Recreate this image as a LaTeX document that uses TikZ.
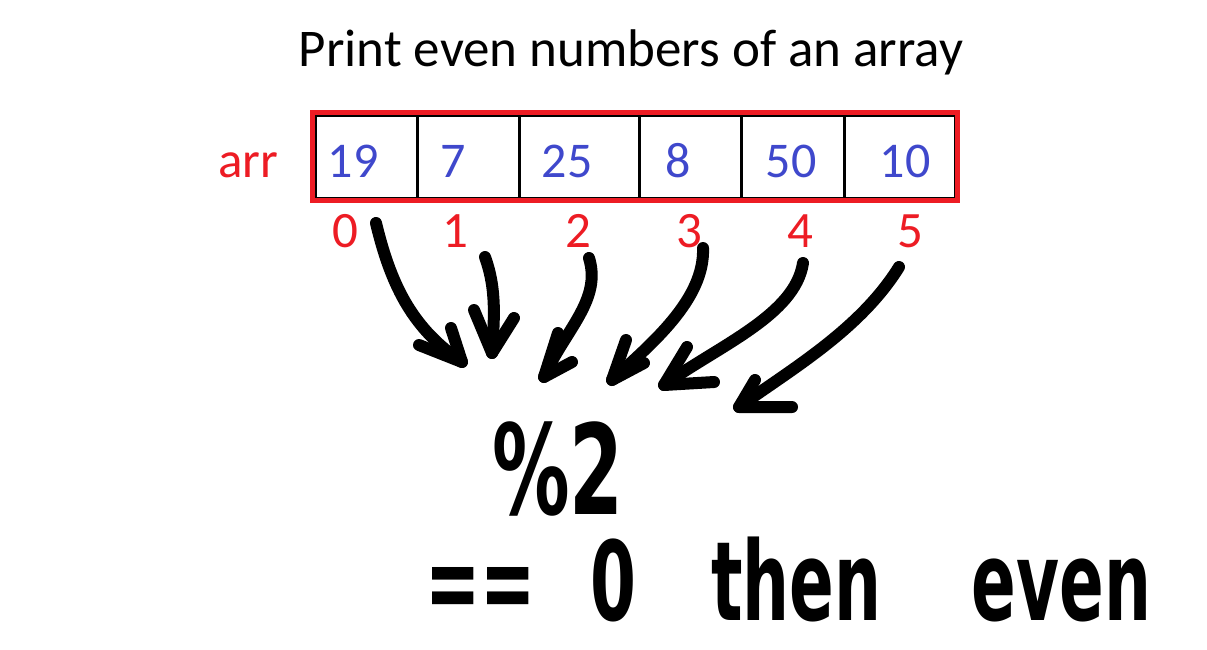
\documentclass[tikz,border=0pt]{standalone}
\usepackage{fontspec}
\setmainfont{Carlito}
\newfontfamily\handfont{DejaVu Sans}
\definecolor{pred}{RGB}{237,28,36}
\definecolor{pblue}{RGB}{63,72,204}
\begin{document}
\begin{tikzpicture}[x=1pt,y=-1pt,
  titletext/.style={font=\fontsize{53}{60}\selectfont, anchor=base, inner sep=0},
  cell/.style={draw=black, line width=3pt, minimum height=83pt, inner sep=0, outer sep=0, anchor=north west},
  frame/.style={draw=pred, line width=5pt},
  val/.style={font=\fontsize{50}{58}\selectfont, text=pblue, anchor=base, inner sep=0},
  idx/.style={font=\fontsize{51}{58}\selectfont, text=pred, anchor=base, inner sep=0},
  hand/.style={draw=black, line width=12pt, line cap=round, line join=round},
  handtext/.style={font=\handfont\bfseries, anchor=base west, inner sep=0, transform shape}
]
\useasboundingbox (0,0) rectangle (1207,649);
\fill[white] (0,0) rectangle (1207,649);

\node[titletext] (title) at (631,66) {Print even numbers of an array};

% cells
\node[cell, minimum width=102pt] (c0) at (315,115) {};
\node[cell, minimum width=102pt] (c1) at (417,115) {};
\node[cell, minimum width=120pt] (c2) at (519,115) {};
\node[cell, minimum width=102pt] (c3) at (639,115) {};
\node[cell, minimum width=103pt] (c4) at (741,115) {};
\node[cell, minimum width=111pt] (c5) at (844,115) {};
\draw[frame] ([shift={(-2.5,-2.5)}]c0.north west) rectangle ([shift={(2.5,2.5)}]c5.south east);

\node[idx] (arr) at (248,177) {arr};

\node[val] (v0) at (353,177) {19};
\node[val] (v1) at (453,177) {7};
\node[val] (v2) at (567,177) {25};
\node[val] (v3) at (678,177) {8};
\node[val] (v4) at (791,177) {50};
\node[val] (v5) at (905,177) {10};

\node[idx] (i0) at (345,247) {0};
\node[idx] (i1) at (455,247) {1};
\node[idx] (i2) at (578,247) {2};
\node[idx] (i3) at (689,247) {3};
\node[idx] (i4) at (800,247) {4};
\node[idx] (i5) at (910,247) {5};

% arrow start and tip coordinates
\coordinate (s0) at (376,223); \coordinate (t0) at (462,362);
\coordinate (s1) at (485,257); \coordinate (t1) at (492,353);
\coordinate (s2) at (589,258); \coordinate (t2) at (544,377);
\coordinate (s3) at (703,248); \coordinate (t3) at (612,380);
\coordinate (s4) at (803,263); \coordinate (t4) at (664,385);
\coordinate (s5) at (899,267); \coordinate (t5) at (739,407);

\draw[hand] (s0) .. controls (392,290) and (415,330) .. (t0);
\draw[hand] (419,345) -- (t0) -- (451,328);
\draw[hand] (s1) .. controls (497,290) and (494,320) .. (t1);
\draw[hand] (474,310) -- (t1) -- (514,318);
\draw[hand] (s2) .. controls (602,300) and (565,330) .. (t2);
\draw[hand] (558,333) -- (t2) -- (572,362);
\draw[hand] (s3) .. controls (705,300) and (650,345) .. (t3);
\draw[hand] (626,340) -- (t3) -- (644,363);
\draw[hand] (s4) .. controls (795,315) and (720,345) .. (t4);
\draw[hand] (687,347) -- (t4) -- (714,382);
\draw[hand] (s5) .. controls (860,330) and (790,370) .. (t5);
\draw[hand] (755,380) -- (t5) -- (792,407);

% handwritten expressions
\node[handtext, xscale=0.62, font=\handfont\bfseries\fontsize{125}{135}\selectfont] (mod) at (492,514) {\%2};
\node[handtext, xscale=0.6, font=\handfont\bfseries\fontsize{110}{120}\selectfont] (cond) at (425,620) {==\hspace{92pt}0\hspace{124pt}then\hspace{150pt}even};
\end{tikzpicture}
\end{document}
